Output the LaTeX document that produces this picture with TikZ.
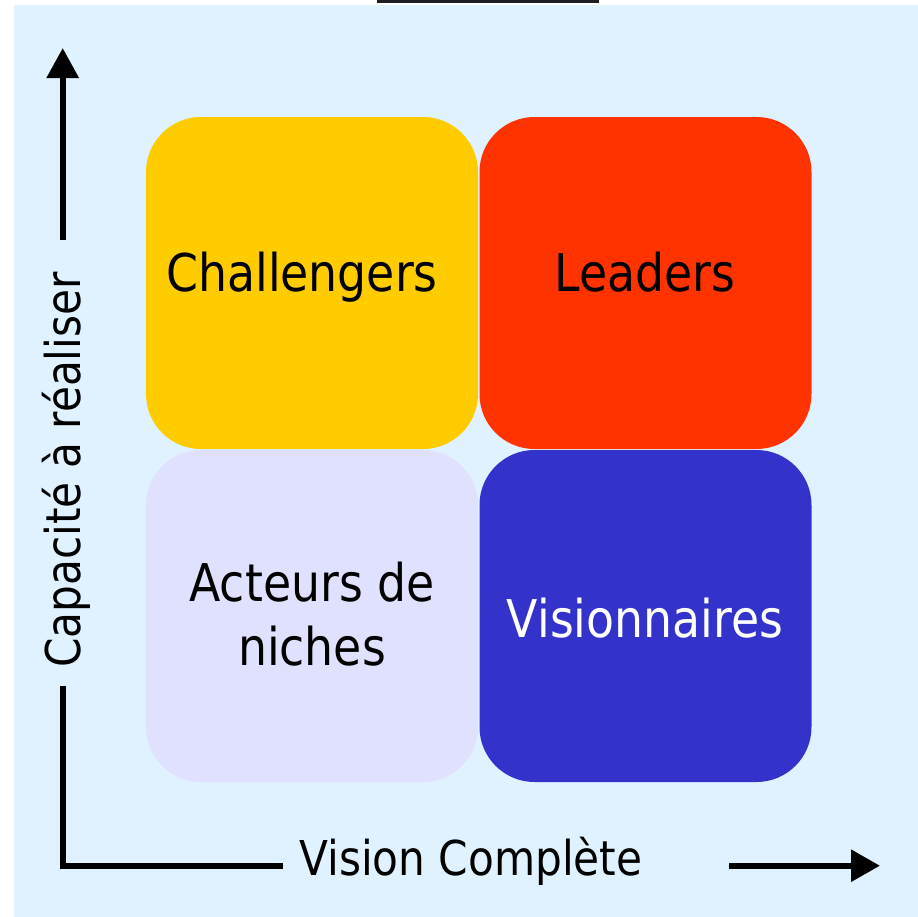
\documentclass[tikz,border=0pt]{standalone}
\usepackage{fontspec}
\setmainfont{DejaVu Sans}[FakeStretch=0.88]
\usetikzlibrary{arrows.meta}
\definecolor{bgblue}{RGB}{224,242,255}
\definecolor{qyellow}{RGB}{255,204,0}
\definecolor{qred}{RGB}{255,51,0}
\definecolor{qlav}{RGB}{224,224,255}
\definecolor{qblue}{RGB}{51,51,204}
\begin{document}
\begin{tikzpicture}[x=1bp,y=-1bp,
  quad/.style={rectangle,rounded corners=55bp,minimum width=332bp,minimum height=332bp,inner sep=0pt,draw=none},
  qlabel/.style={anchor=base,inner sep=0pt,font=\fontsize{52bp}{64bp}\selectfont,align=center},
  axislabel/.style={anchor=base,inner sep=0pt,font=\fontsize{48bp}{58bp}\selectfont},
  axisline/.style={line width=6bp,black},
  axisarrow/.style={axisline,-{Triangle[length=30bp,width=31bp]}}]
\useasboundingbox (0,0) rectangle (918,917);
\fill[white] (0,0) rectangle (918,917);
\fill[bgblue] (14,5) rectangle (918,917);
\fill[black!88] (377,0) rectangle (599,2.5);
% quadrants
\node[quad,fill=qyellow] (chal) at (312,283) {};
\node[quad,fill=qred] (lead) at (645.5,283) {};
\node[quad,fill=qlav] (nich) at (312,616) {};
\node[quad,fill=qblue] (visi) at (645.5,616) {};
% labels
\node[qlabel] (tchal) at (302,291) {Challengers};
\node[qlabel] (tlead) at (645,291) {Leaders};
\node[qlabel,anchor=north] (tnich) at (312,562) {Acteurs de\\niches};
\node[qlabel,text=white] (tvisi) at (645,637) {Visionnaires};
% axes
\coordinate (corner) at (62.7,865.7);
\coordinate (ygapbot) at (62.7,686);
\coordinate (ygaptop) at (62.7,240);
\coordinate (ytip) at (62.7,48);
\coordinate (xgapleft) at (283,865.7);
\coordinate (xgapright) at (729,865.7);
\coordinate (xtip) at (880,865.7);
\draw[axisline] (ygapbot) -- (corner) -- (xgapleft);
\draw[axisarrow] (ygaptop) -- (ytip);
\draw[axisarrow,-{Triangle[length=29bp,width=31bp]}] (xgapright) -- (xtip);
\node[axislabel] (xlab) at (471,875) {Vision Complète};
\node[axislabel,rotate=90] (ylab) at (80,470) {Capacité à réaliser};
\end{tikzpicture}
\end{document}
